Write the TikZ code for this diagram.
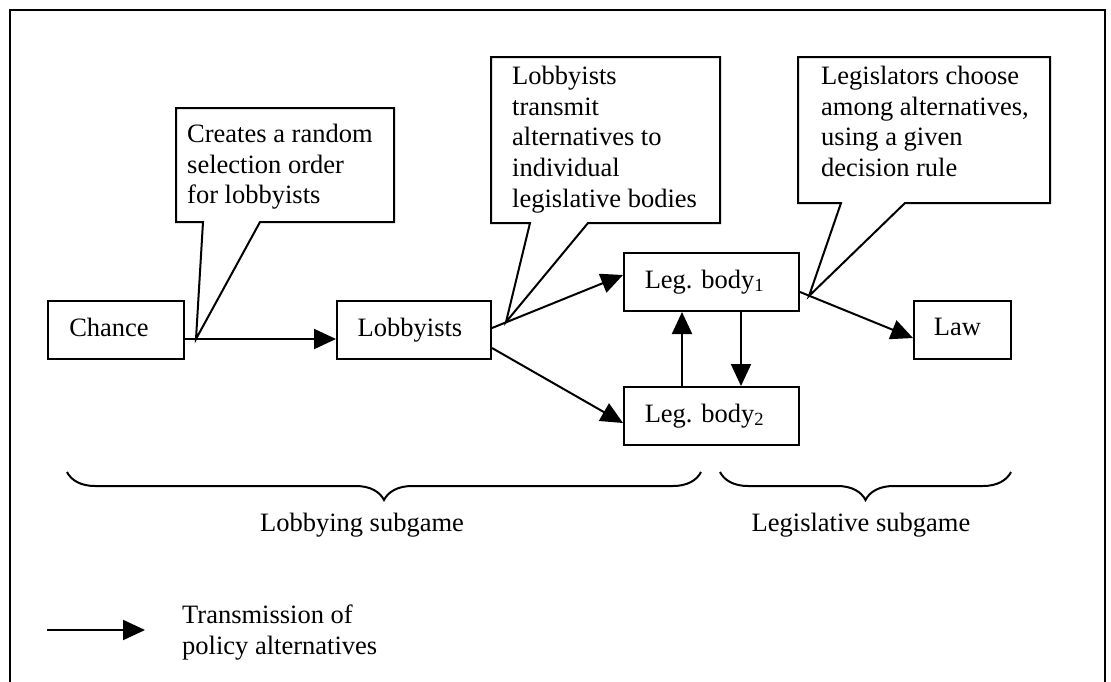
\documentclass[tikz,border=0pt]{standalone}
\usepackage{fontspec}
\setmainfont{Liberation Serif}
\usetikzlibrary{arrows.meta,decorations.pathreplacing}
\begin{document}
\begin{tikzpicture}[x=1pt,y=-1pt,
  every node/.style={font=\fontsize{26.5pt}{30.7pt}\selectfont},
  box/.style={draw, line width=2pt, minimum height=58pt, inner sep=0pt,
              text height=18.5pt, text depth=6pt},
  flow/.style={line width=2pt, -{Triangle[length=22pt,width=20pt]}},
  note/.style={align=left, anchor=north west, inner sep=0pt},
  bubble/.style={draw, line width=2pt, line join=miter},
  curly/.style={line width=2pt, decorate,
                decoration={brace, mirror, amplitude=28pt}},
  caption/.style={anchor=base, inner sep=0pt}]
\useasboundingbox (0,0) rectangle (1111,681);

% outer frame, open at the bottom edge of the page
\draw[line width=2.3pt] (10,690) -- (10,10) -- (1105,10) -- (1105,690);

% players and outcome (labels sit a little left of centre)
\node[box, minimum width=136pt] (chance) at (116,330) {\hspace*{-14pt}Chance};
\node[box, minimum width=154pt] (lobby)  at (414,330) {\hspace*{-8pt}Lobbyists};
\node[box, minimum width=175pt] (leg1)   at (711.5,282) {\hspace*{-14pt}Leg. body\textsubscript{1}};
\node[box, minimum width=175pt] (leg2)   at (711.5,416) {\hspace*{-14pt}Leg. body\textsubscript{2}};
\node[box, minimum width=97pt]  (law)    at (962.5,329.5) {\hspace*{-10pt}Law};

% transmission of alternatives
\draw[flow] ([yshift=-9pt]chance.east) -- ([yshift=-9pt]lobby.west);
\draw[flow] ([yshift=2pt]lobby.east)   -- ([yshift=7pt]leg1.west);
\draw[flow] ([yshift=-18pt]lobby.east) -- ([yshift=-7pt]leg2.west);
\draw[flow] ([xshift=-29.5pt]leg2.north) -- ([xshift=-29.5pt]leg1.south);
\draw[flow] ([xshift=29.5pt]leg1.south)  -- ([xshift=29.5pt]leg2.north);
\draw[flow] ([yshift=-10pt]leg1.east)  -- ([yshift=-8.5pt]law.west);

% speech-bubble comments
\coordinate (tip1) at (196,339);
\coordinate (tip2) at (506,322);
\coordinate (tip3) at (809,296);

\draw[bubble] (176,108) -- (394,108) -- (394,222) -- (260,222) -- (tip1)
              -- (203,222) -- (176,222) -- cycle;
\node[note] (c1) at (187,124) {Creates a random\\selection order\\for lobbyists};

\draw[bubble] (491,57) -- (720,57) -- (720,223) -- (588,223) -- (tip2)
              -- (530,223) -- (491,223) -- cycle;
\node[note] (c2) at (512,66) {Lobbyists\\transmit\\alternatives to\\individual\\legislative bodies};

\draw[bubble] (798,57) -- (1050,57) -- (1050,203) -- (905,203) -- (tip3)
              -- (841,203) -- (798,203) -- cycle;
\node[note] (c3) at (821,66) {Legislators choose\\among alternatives,\\using a given\\decision rule};

% subgame braces
\coordinate (b1a) at (67,472);
\coordinate (b1b) at (701,472);
\coordinate (b2a) at (720,472);
\coordinate (b2b) at (1011,472);
\draw[curly] (b1a) -- (b1b);
\draw[curly] (b2a) -- (b2b);
\node[caption] (lobsub) at (362,531) {Lobbying subgame};
\node[caption] (legsub) at (861,531) {Legislative subgame};

% legend
\coordinate (keyA) at (47,630);
\coordinate (keyB) at (145,630);
\draw[flow] (keyA) -- (keyB);
\node[note] (keytext) at (182,605) {Transmission of\\policy alternatives};
\end{tikzpicture}
\end{document}
